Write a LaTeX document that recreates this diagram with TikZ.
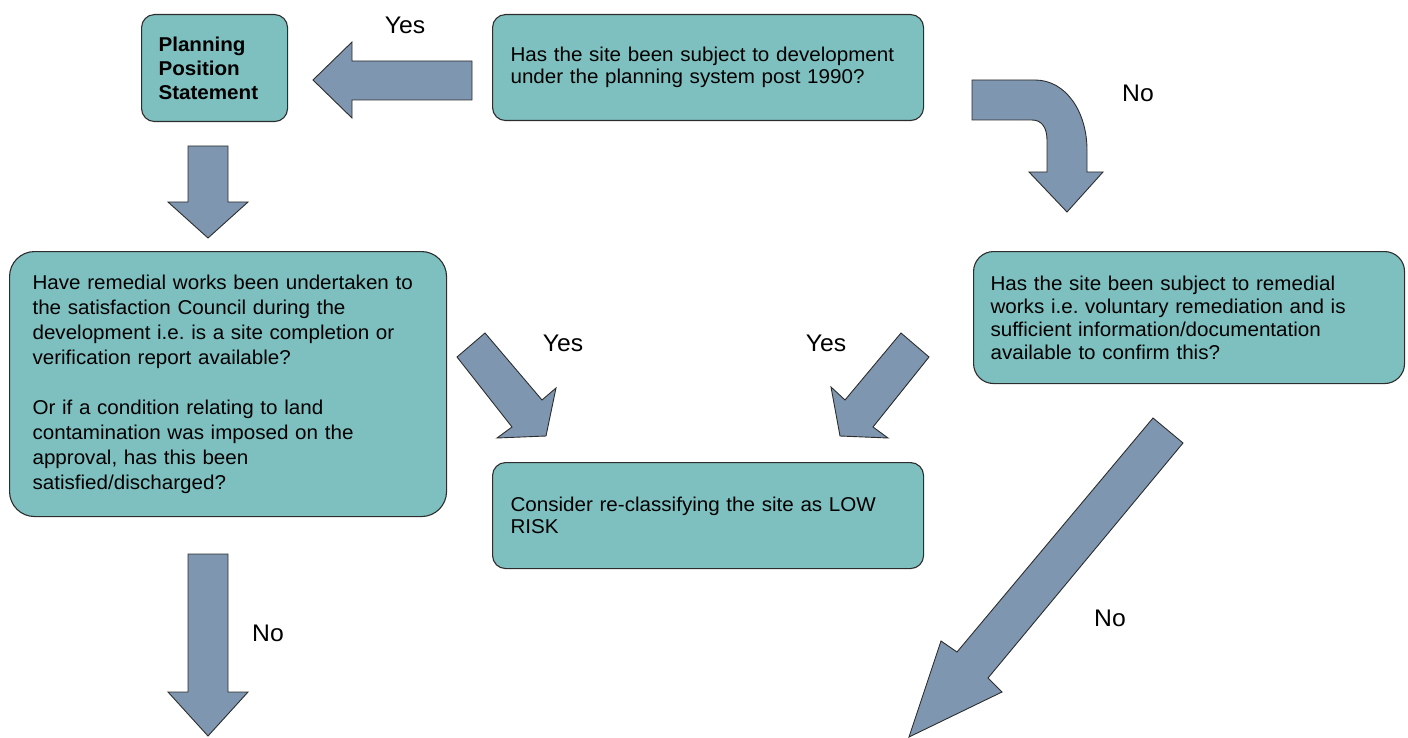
\documentclass[tikz,border=0pt]{standalone}
\usepackage{fontspec}
\setmainfont{Liberation Sans}[FakeStretch=1.03]
\usetikzlibrary{calc}
\usetikzlibrary{positioning}
\frenchspacing

\definecolor{boxfill}{RGB}{126,191,191}
\definecolor{arrowfill}{RGB}{126,150,176}
\definecolor{edgeline}{RGB}{45,45,45}

\tikzset{
    box/.style={draw=edgeline, fill=boxfill, line width=1.1pt, rounded corners=13pt,
        anchor=north west, align=left, inner xsep=17pt, inner ysep=0pt,
        font=\fontsize{20}{22}\selectfont},
    blockarrow/.style={draw=edgeline, fill=arrowfill, line width=0.9pt, line join=miter},
    answer/.style={font=\fontsize{24}{24}\selectfont},
}

\begin{document}
\begin{tikzpicture}[x=1pt, y=-1pt]
    \useasboundingbox (0,0) rectangle (1408,738);

    \node[box, text width=112pt, minimum width=146pt, minimum height=107pt,
        font=\bfseries\fontsize{20}{24}\selectfont] (pps) at (141,14) {Planning\\Position\\Statement};
    \node[box, text width=395pt, minimum width=431pt, minimum height=106pt] (sitedev) at (492,14)
        {Has the site been subject to development\\under the planning system post 1990?};
    \node[box, text width=391pt, minimum width=437pt, minimum height=265pt, inner xsep=23pt,
        rounded corners=25pt, font=\fontsize{20}{25}\selectfont] (remedial) at (9,251)
        {Have remedial works been undertaken to\\the satisfaction Council during the\\development i.e. is a site completion or\\verification report available?\\[25pt]Or if a condition relating to land\\contamination was imposed on the\\approval, has this been\\satisfied/discharged?};
    \node[box, text width=397pt, minimum width=429pt, minimum height=132pt, rounded corners=20pt,
        font=\fontsize{20}{23}\selectfont] (voluntary) at (973,251)
        {Has the site been subject to remedial\\works i.e. voluntary remediation and is\\sufficient information/documentation\\available to confirm this?};
    \node[box, text width=395pt, minimum width=431pt, minimum height=106pt] (lowrisk) at (492,462)
        {Consider re-classifying the site as LOW\\RISK};

    % yes: back to the planning statement
    \coordinate (yestop) at (472,61);
    \draw[blockarrow] (yestop) -- ++(-120,0) -- ++(0,-19) -- ++(-39,38) -- ++(39,38) -- ++(0,-18) -- ++(120,0) -- cycle;
    \node[answer] (yestoplbl) at (405,25) {Yes};

    % no: bent arrow round to the right
    \draw[blockarrow] (972,80) -- (1035,80) .. controls (1066,80) and (1087,112) .. (1087,150)
        -- (1087,172) -- (1103,172) -- (1067,212) -- (1029,172) -- (1047,172) -- (1047,140)
        .. controls (1047,128) and (1042,120) .. (1032,120) -- (972,120) -- cycle;
    \node[answer] (notoplbl) at (1138,93) {No};

    \coordinate (ppsdown) at (188,146);
    \draw[blockarrow] (ppsdown) -- ++(0,56) -- ++(-20,0) -- ++(40,36) -- ++(40,-36) -- ++(-20,0) -- ++(0,-56) -- cycle;

    % yes arrows into the low risk box
    \draw[blockarrow] (457,357) -- (485,333) -- (542,400) -- (556,388) -- (546,436) -- (497,438) -- (512,427) -- cycle;
    \node[answer] (yesleftlbl) at (563,343) {Yes};
    \draw[blockarrow] (929,357) -- (901,333) -- (845,400) -- (831,387) -- (840,436) -- (888,438) -- (873,427) -- cycle;
    \node[answer] (yesrightlbl) at (826,343) {Yes};

    % no arrows off the page
    \coordinate (nodown) at (188,554);
    \draw[blockarrow] (nodown) -- ++(0,138) -- ++(-20,0) -- ++(40,44) -- ++(40,-44) -- ++(-20,0) -- ++(0,-138) -- cycle;
    \node[answer] (noleftlbl) at (268,633) {No};
    \draw[blockarrow] (1153,418) -- (1183,443) -- (988,678) -- (1002,692) -- (909,737) -- (941,641) -- (957,652) -- cycle;
    \node[answer] (norightlbl) at (1110,618) {No};
\end{tikzpicture}
\end{document}
